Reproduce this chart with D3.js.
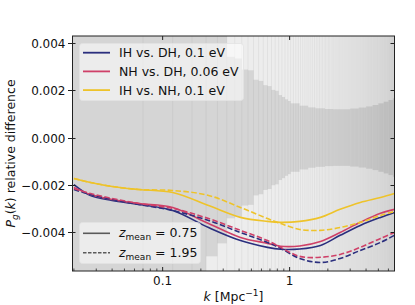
<!DOCTYPE html>
<html><head><meta charset="utf-8">
<script src="https://cdn.jsdelivr.net/npm/d3@7"></script>
<style>body{margin:0;background:#fff}svg{display:block;font-family:"DejaVu Sans",sans-serif}</style>
</head><body><svg id="c" width="415" height="305"></svg>
<script>
// ---- data (relative differences in units of 1e-3) ----
const kGrid = [0.02, 0.027, 0.04, 0.065, 0.12, 0.23, 0.41, 0.67, 0.85, 1.2, 1.75, 2.5, 3.6, 5.2, 6.7];
const ihDhZ1 = [-1.99, -2.45, -2.66, -2.83, -3.09, -3.81, -4.36, -4.65, -4.73, -4.72, -4.57, -4.14, -3.72, -3.38, -3.17];
const nhDhZ1 = [-2.11, -2.41, -2.62, -2.79, -2.96, -3.64, -4.23, -4.48, -4.60, -4.59, -4.40, -4.02, -3.59, -3.21, -3.04];
const ihNhZ1 = [-1.73, -1.90, -2.07, -2.20, -2.33, -2.88, -3.38, -3.55, -3.59, -3.55, -3.38, -3.04, -2.75, -2.54, -2.37];
const ihDhZ2 = [-2.20, -2.41, -2.62, -2.83, -3.09, -3.51, -4.02, -4.44, -4.69, -5.12, -5.29, -5.12, -4.78, -4.44, -4.14];
const nhDhZ2 = [-2.16, -2.37, -2.58, -2.79, -3.00, -3.43, -3.93, -4.36, -4.65, -5.03, -5.07, -4.95, -4.65, -4.27, -4.02];
const ihNhZ2 = [-1.73, -1.90, -2.07, -2.20, -2.24, -2.45, -2.96, -3.43, -3.64, -3.89, -3.93, -3.81, -3.59, -3.30, -3.13];
// error band (bins in k, half-width in units of 1e-3)
const bandEdges = [0.0195,0.07,0.12,0.17,0.22,0.27,0.32,0.37,0.42,0.47,0.52,0.57,0.62,0.67,0.72,0.77,0.82,0.87,0.92,0.97,1.02,1.2,1.4,1.6,1.9,2.2,2.6,3.0,3.5,4.0,4.5,5.0,5.5,6.0,6.5,7.0];
const bandSigma = [30,15,9,6.5,5.03,4.48,3.42,3.35,2.88,2.85,2.45,2.40,2.22,2.18,2.02,1.98,1.80,1.72,1.62,1.55,1.45,1.35,1.28,1.24,1.21,1.20,1.20,1.23,1.27,1.32,1.38,1.45,1.52,1.59,1.66];
const binStep = 0.05;
const seriesNames = ["IH vs. DH, 0.1 eV", "NH vs. DH, 0.06 eV", "IH vs. NH, 0.1 eV"];
const seriesColors = ["#2b2f7e", "#cf4068", "#eec32a"];
const zLabels = ["0.75", "1.95"];
const yTicks = [0.004, 0.002, 0.0, -0.002, -0.004];
const yTickLabels = ["0.004", "0.002", "0.000", "\u22120.002", "\u22120.004"];
const xTicks = [0.1, 1];
const xTickLabels = ["0.1", "1"];

// ---- layout ----
const L = 72.5, R = 394.5, T = 36, B = 271;
const svg = d3.select("#c");
const x = d3.scaleLog().domain([0.0195, 6.7]).range([L, R]);
const y = d3.scaleLinear().domain([-0.00565, 0.0043]).range([B, T]);

svg.append("defs").append("clipPath").attr("id", "clip")
  .append("rect").attr("x", L).attr("y", T).attr("width", R - L).attr("height", B - T);

const plot = svg.append("g").attr("clip-path", "url(#clip)");
plot.append("rect").attr("x", L).attr("y", T).attr("width", R - L).attr("height", B - T).attr("fill", "#ededed");

// band bins
const bins = bandSigma.map((s, i) => ({lo: bandEdges[i], hi: bandEdges[i + 1], s: s * 1e-3}));
plot.selectAll("rect.band").data(bins).join("rect").attr("class", "band")
  .attr("x", d => x(d.lo)).attr("width", d => x(d.hi) - x(d.lo))
  .attr("y", d => y(d.s)).attr("height", d => y(-d.s) - y(d.s))
  .attr("fill", "#000").attr("fill-opacity", 0.097);

// bin edge lines
const edges = d3.range(0.07, 6.8, binStep);
plot.selectAll("line.edge").data(edges).join("line").attr("class", "edge")
  .attr("x1", d => x(d)).attr("x2", d => x(d)).attr("y1", T).attr("y2", B)
  .attr("stroke", "#000").attr("stroke-opacity", 0.06).attr("stroke-width", 0.9);

// curves
const line = d3.line().x(d => x(d[0])).y(d => y(d[1] * 1e-3)).curve(d3.curveCatmullRom.alpha(0.5));
const curves = [
  {v: ihDhZ1, c: 0, dash: null}, {v: nhDhZ1, c: 1, dash: null}, {v: ihNhZ1, c: 2, dash: null},
  {v: ihDhZ2, c: 0, dash: "5.5,2.4"}, {v: nhDhZ2, c: 1, dash: "5.5,2.4"}, {v: ihNhZ2, c: 2, dash: "5.5,2.4"}
];
curves.forEach(cv => {
  plot.append("path").datum(kGrid.map((k, i) => [k, cv.v[i]]))
    .attr("d", line).attr("fill", "none").attr("stroke", seriesColors[cv.c])
    .attr("stroke-width", 1.6).attr("stroke-dasharray", cv.dash);
});

// axes frame
svg.append("rect").attr("x", L).attr("y", T).attr("width", R - L).attr("height", B - T)
  .attr("fill", "none").attr("stroke", "#222").attr("stroke-width", 1);

// y ticks
yTicks.forEach((t, i) => {
  const yy = Math.round(y(t)) + 0.5;
  svg.append("line").attr("x1", L - 4.5).attr("x2", L + 3).attr("y1", yy).attr("y2", yy).attr("stroke", "#222");
  svg.append("line").attr("x1", R - 4).attr("x2", R).attr("y1", yy).attr("y2", yy).attr("stroke", "#222");
  svg.append("text").attr("x", L - 7).attr("y", yy).attr("dy", "0.36em").attr("text-anchor", "end")
    .attr("font-size", 12).attr("fill", "#111").text(yTickLabels[i]);
});
// x ticks
const minor = x.ticks().filter(t => !xTicks.includes(t));
minor.forEach(t => {
  svg.append("line").attr("x1", x(t)).attr("x2", x(t)).attr("y1", B).attr("y2", B - 2.5).attr("stroke", "#222").attr("stroke-width", 0.8);
});
xTicks.forEach((t, i) => {
  svg.append("line").attr("x1", x(t)).attr("x2", x(t)).attr("y1", B).attr("y2", B - 4).attr("stroke", "#222");
  svg.append("line").attr("x1", x(t)).attr("x2", x(t)).attr("y1", T).attr("y2", T + 4).attr("stroke", "#222");
  svg.append("text").attr("x", x(t)).attr("y", B + 14).attr("text-anchor", "middle")
    .attr("font-size", 12).attr("fill", "#111").text(xTickLabels[i]);
});

// axis labels
const xl = svg.append("text").attr("x", (L + R) / 2).attr("y", 301).attr("text-anchor", "middle").attr("font-size", 12.5).attr("fill", "#111");
xl.append("tspan").attr("font-style", "italic").text("k");
xl.append("tspan").text(" [Mpc");
xl.append("tspan").attr("font-size", 9).attr("dy", -5).text("\u22121");
xl.append("tspan").attr("dy", 5).text("]");

const yl = svg.append("text").attr("transform", `translate(15,${(T + B) / 2}) rotate(-90)`)
  .attr("text-anchor", "middle").attr("font-size", 12.5).attr("fill", "#111");
yl.append("tspan").attr("font-style", "italic").text("P");
yl.append("tspan").attr("font-style", "italic").attr("font-size", 9).attr("dy", 3).text("g");
yl.append("tspan").attr("dy", -3).text("(");
yl.append("tspan").attr("font-style", "italic").text("k");
yl.append("tspan").text(") relative difference");

// legend 1
const lg1 = svg.append("g");
lg1.append("rect").attr("x", 79.5).attr("y", 43.5).attr("width", 164).attr("height", 57).attr("rx", 3)
  .attr("fill", "#fff").attr("fill-opacity", 0.55).attr("stroke", "#e2e2e2").attr("stroke-opacity", 0.8);
seriesNames.forEach((n, i) => {
  const yy = 52.7 + i * 18.7;
  lg1.append("line").attr("x1", 83).attr("x2", 110).attr("y1", yy).attr("y2", yy)
    .attr("stroke", seriesColors[i]).attr("stroke-width", 1.8);
  lg1.append("text").attr("x", 119).attr("y", yy).attr("dy", "0.36em").attr("font-size", 12.5).attr("fill", "#111").text(n);
});

// legend 2
const lg2 = svg.append("g");
lg2.append("rect").attr("x", 79.5).attr("y", 222.5).attr("width", 121).attr("height", 41).attr("rx", 3)
  .attr("fill", "#fff").attr("fill-opacity", 0.55).attr("stroke", "#e2e2e2").attr("stroke-opacity", 0.8);
zLabels.forEach((z, i) => {
  const yy = 233.3 + i * 19.4;
  lg2.append("line").attr("x1", 83).attr("x2", 110).attr("y1", yy).attr("y2", yy)
    .attr("stroke", "#5a5a5a").attr("stroke-width", 1.6).attr("stroke-dasharray", i ? "3.5,1.5" : null);
  const t = lg2.append("text").attr("x", 119).attr("y", yy + 4).attr("font-size", 12.5).attr("fill", "#111");
  t.append("tspan").attr("font-style", "italic").text("z");
  t.append("tspan").attr("font-size", 9).attr("dy", 3).text("mean");
  t.append("tspan").attr("dy", -3).text(" = " + z);
});
</script></body></html>
